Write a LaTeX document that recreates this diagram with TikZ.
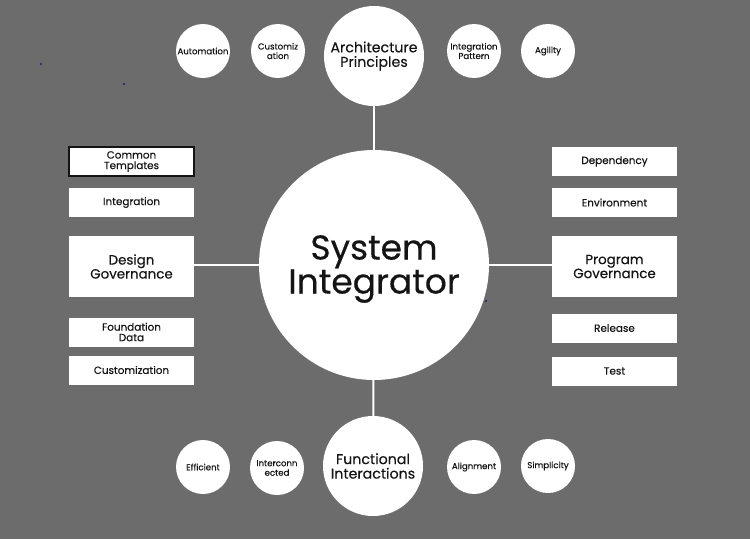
\documentclass[tikz,border=0pt]{standalone}
\usepackage{fontspec}
\setmainfont{Poppins}[FakeBold=0.35]
\definecolor{bggray}{RGB}{108,108,108}
\definecolor{ink}{RGB}{20,20,20}
\definecolor{speck}{RGB}{30,30,110}
\tikzset{
  bubble/.style={circle, fill=white, inner sep=0pt, minimum size=54pt, align=center, text=ink, font=\fontsize{8.6}{9.5}\selectfont},
  hub/.style={circle, fill=white, inner sep=0pt, minimum size=100pt, align=center, text=ink, font=\fontsize{14.2}{14.5}\selectfont},
  tag/.style={rectangle, fill=white, inner sep=0pt, minimum width=125pt, minimum height=29pt, align=center, text=ink, font=\fontsize{10.4}{10.5}\selectfont},
  bigtag/.style={tag, minimum height=61pt, font=\fontsize{13.4}{14}\selectfont},
  link/.style={draw=white, line width=2pt}
}
\begin{document}
\begin{tikzpicture}[x=1pt,y=-1pt]
    \fill[bggray] (0,0) rectangle (750,539);
    \useasboundingbox (0,0) rectangle (750,539);
    % centre
    \node[circle, fill=white, inner sep=0pt, minimum size=230pt] (SI) at (374,265) {};
    \node[align=center, text=ink, inner sep=0pt, font=\fontsize{34.5}{31}\selectfont] (SIlabel) at (374,269) {System\\Integrator};
    % top row
    \node[hub] (AP) at (374,56) {Architecture\\Principles};
    \node[bubble] (A1) at (203,51) {Automation};
    \node[bubble] (A2) at (278,51) {Customiz\\ation};
    \node[bubble] (A3) at (474,51) {Integration\\Pattern};
    \node[bubble] (A4) at (548,51) {Agility};
    % bottom row
    \node[hub] (FI) at (373,466) {Functional\\Interactions};
    \node[bubble] (F1) at (203,467) {Efficient};
    \node[bubble] (F2) at (277,468) {Interconn\\ected};
    \node[bubble] (F3) at (474,467) {Alignment};
    \node[bubble] (F4) at (548,466) {Simplicity};
    % left column
    \node[tag, draw=ink, line width=1.2pt] (L1) at (131.5,161.5) {Common\\Templates};
    \node[tag] (L2) at (131.5,202.5) {Integration};
    \node[bigtag] (DG) at (131.5,266.5) {Design\\Governance};
    \node[tag] (L3) at (131.5,332) {Foundation\\Data};
    \node[tag] (L4) at (131.5,370) {Customization};
    % right column
    \node[tag] (R1) at (614.5,161.5) {Dependency};
    \node[tag] (R2) at (614.5,202.5) {Environment};
    \node[bigtag] (PG) at (614.5,266.5) {Program\\Governance};
    \node[tag] (R3) at (614.5,328) {Release};
    \node[tag] (R4) at (614.5,371) {Test};
    % connectors
    \draw[link] (SI) -- (AP);
    \draw[link] (SI) -- (FI);
    \draw[link] (SI.west) -- (DG.east |- SI.west);
    \draw[link] (SI.east) -- (PG.west |- SI.east);
    % specks
    \fill[speck] (41,64) circle (1.2pt);
    \fill[speck] (124,84) circle (1.2pt);
    \fill[speck] (486,301) circle (1.2pt);
\end{tikzpicture}
\end{document}
